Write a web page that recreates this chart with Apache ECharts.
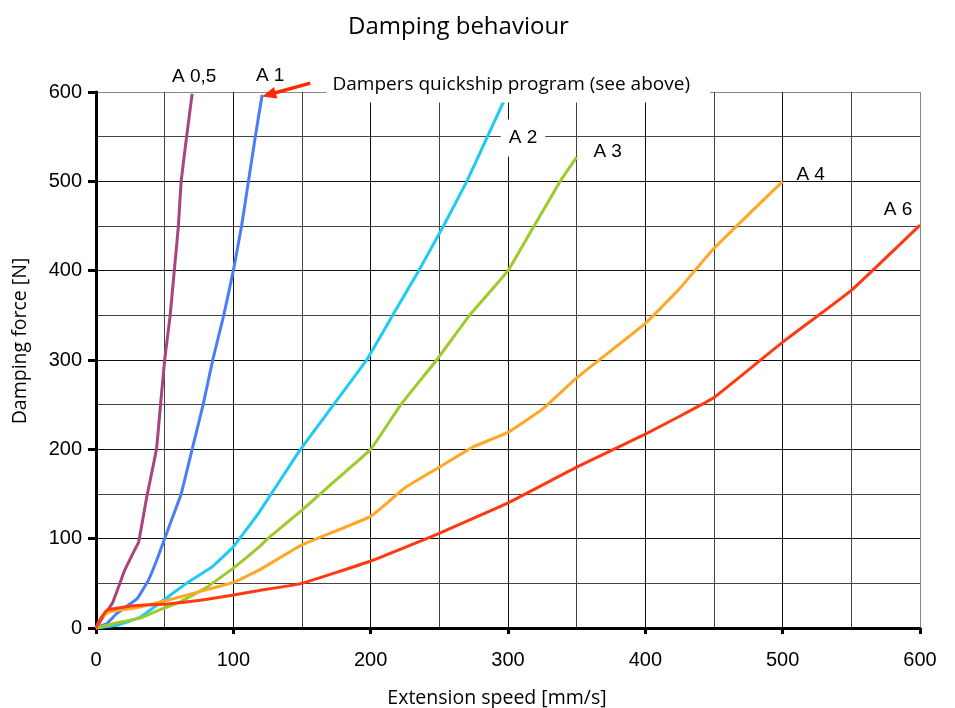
<!DOCTYPE html>
<html>
<head>
<meta charset="utf-8">
<script src="https://cdn.jsdelivr.net/npm/echarts@6/dist/echarts.min.js"></script>
<style>
html,body{margin:0;padding:0;background:#fff;}
#chart{width:955px;height:708px;}
</style>
</head>
<body>
<div id="chart"></div>
<script>
// ---- data (x: extension speed mm/s, y: damping force N)
const seriesNames = ['A 0,5', 'A 1', 'A 2', 'A 3', 'A 4', 'A 6'];
const a05 = [[0,0],[5,12],[12,28],[21,65],[28,87],[31,96],[37,147],[44,200],[47,250],[50,300],[54,350],[57,400],[60,450],[62,500],[66,550],[70,598]];
const a1  = [[0,0],[8,5],[15,16],[22,24],[30,33],[38,53],[44,75],[50,100],[56,125],[62,150],[70,200],[78,250],[85,300],[93,350],[100,400],[106,450],[111,500],[116,550],[121,597]];
const a2  = [[0,0],[15,3],[32,12],[49,31],[66,50],[85,69],[100,91],[119,130],[148,198],[173,250],[197,300],[216,350],[235,400],[253,450],[270,500],[285,550],[300,600]];
const a3  = [[0,0],[13,5],[32,11],[49,22],[61,29],[81,46],[100,67],[119,91],[125,100],[150,132],[175,166],[200,200],[222,250],[248,300],[272,350],[300,400],[319,450],[338,500],[350,527]];
const a4  = [[0,0],[4,12],[10,18],[27,22],[52,31],[76,41],[100,51],[119,65],[150,93],[200,125],[225,157],[250,180],[275,203],[300,219],[325,245],[350,280],[400,341],[425,380],[450,425],[500,500]];
const a6  = [[0,0],[4,12],[8,20],[15,22],[27,25],[52,27],[76,31],[100,37],[119,42],[150,50],[200,75],[250,106],[300,140],[350,180],[400,217],[425,237],[450,258],[500,320],[550,378],[600,451]];
const seriesData = [a05, a1, a2, a3, a4, a6];
const colors = ['#A8457C', '#4A7EF7', '#1ECBF2', '#9CCB2A', '#FFA726', '#FF3A12'];
const xTicks = [0, 100, 200, 300, 400, 500, 600];
const yTicks = [0, 100, 200, 300, 400, 500, 600];
const arrowFrom = [156, 610];
const arrowTo = [121, 595];
const titleText = 'Damping behaviour';
const noteText = 'Dampers quickship program (see above)';
const xName = 'Extension speed [mm/s]';
const yName = 'Damping force [N]';

const humanist = '"Open Sans", "Noto Sans", sans-serif';
const arial = '"Liberation Sans", Arial, sans-serif';

const chart = echarts.init(document.getElementById('chart'), null, {renderer: 'canvas'});

const series = seriesNames.map((n, i) => ({
  name: n,
  type: 'line',
  data: seriesData[i],
  showSymbol: false,
  symbol: 'none',
  smooth: 0.1,
  clip: false,
  lineStyle: {color: colors[i], width: 3},
  z: 3
}));

const option = {
  backgroundColor: '#fff',
  animation: false,
  title: {
    text: titleText,
    left: 343,
    top: 10,
    textStyle: {fontFamily: humanist, fontSize: 24, fontWeight: 'normal', color: '#000'}
  },
  grid: {left: 96, right: 35, top: 92, bottom: 80, containLabel: false, outerBoundsMode: 'none'},
  xAxis: {
    type: 'value', min: 0, max: 600, interval: 100,
    name: xName, nameLocation: 'middle', nameGap: 60,
    nameTextStyle: {fontFamily: humanist, fontSize: 19.5, color: '#000', padding: [0, 22, 0, 0]},
    axisLine: {show: true, onZero: false, lineStyle: {color: '#000', width: 3}},
    axisTick: {show: true, length: 6, lineStyle: {color: '#000', width: 3}},
    axisLabel: {fontFamily: arial, fontSize: 20, color: '#000', margin: 22,
      formatter: v => xTicks.indexOf(v) >= 0 ? String(v) : ''},
    splitLine: {show: true, lineStyle: {color: ['#000','#111','#111','#111','#111','#111','#888'], width: 1}},
    minorTick: {show: false, splitNumber: 2},
    minorSplitLine: {show: true, lineStyle: {color: '#444', width: 1}}
  },
  yAxis: {
    type: 'value', min: 0, max: 600, interval: 100,
    name: yName, nameLocation: 'middle', nameGap: 66, nameRotate: 90,
    nameTextStyle: {fontFamily: humanist, fontSize: 19.5, color: '#000', padding: [0, 0, 0, 38]},
    axisLine: {show: true, onZero: false, lineStyle: {color: '#000', width: 3}},
    axisTick: {show: true, length: 8, lineStyle: {color: '#000', width: 3}},
    axisLabel: {fontFamily: arial, fontSize: 20, color: '#000', margin: 14,
      formatter: v => yTicks.indexOf(v) >= 0 ? String(v) : ''},
    splitLine: {show: true, lineStyle: {color: ['#000','#111','#111','#111','#111','#111','#888'], width: 1}},
    minorTick: {show: false, splitNumber: 2},
    minorSplitLine: {show: true, lineStyle: {color: '#444', width: 1}}
  },
  series: series
};
chart.setOption(option);

// ---- text labels placed relative to each curve's end point
const labelOffsets = [[2,-17],[8,-19],[15,46],[31,-5],[28,-7],[-22,-15]];
const graphics = [];
seriesNames.forEach((n, i) => {
  const d = seriesData[i];
  const p = chart.convertToPixel({gridIndex: 0}, d[d.length - 1]);
  const el = {
    type: 'text', z: 50,
    x: p[0] + labelOffsets[i][0], y: p[1] + labelOffsets[i][1],
    style: {text: n, fill: '#000', font: '19px ' + arial, textAlign: 'center', textVerticalAlign: 'middle'}
  };
  if (i === 2) {
    el.style.backgroundColor = '#fff';
    el.style.padding = [9, 8, 9, 8];
  }
  graphics.push(el);
});
// annotation box
const noteAnchor = chart.convertToPixel({gridIndex: 0}, [306, 610]);
graphics.push({
  type: 'text', z: 40,
  x: noteAnchor[0] + 2, y: noteAnchor[1] + 2,
  style: {text: noteText, fill: '#000', font: '19px ' + humanist, textAlign: 'center', textVerticalAlign: 'middle',
    backgroundColor: '#fff', padding: [8, 20, 8, 6]}
});
// red arrow pointing to the A 1 curve
const pa = chart.convertToPixel({gridIndex: 0}, arrowFrom);
const pb = chart.convertToPixel({gridIndex: 0}, arrowTo);
const dx = pb[0] - pa[0], dy = pb[1] - pa[1];
const len = Math.sqrt(dx * dx + dy * dy);
const ux = dx / len, uy = dy / len;
const headL = 14, headW = 6;
const base = [pb[0] - ux * headL, pb[1] - uy * headL];
graphics.push({
  type: 'line', z: 60,
  shape: {x1: pa[0], y1: pa[1], x2: base[0] + ux * 2, y2: base[1] + uy * 2},
  style: {stroke: '#FF2A00', lineWidth: 3.5}
});
graphics.push({
  type: 'polygon', z: 60,
  shape: {points: [pb, [base[0] - uy * headW, base[1] + ux * headW], [base[0] + uy * headW, base[1] - ux * headW]]},
  style: {fill: '#FF2A00'}
});
chart.setOption({graphic: graphics});
</script>
</body>
</html>
